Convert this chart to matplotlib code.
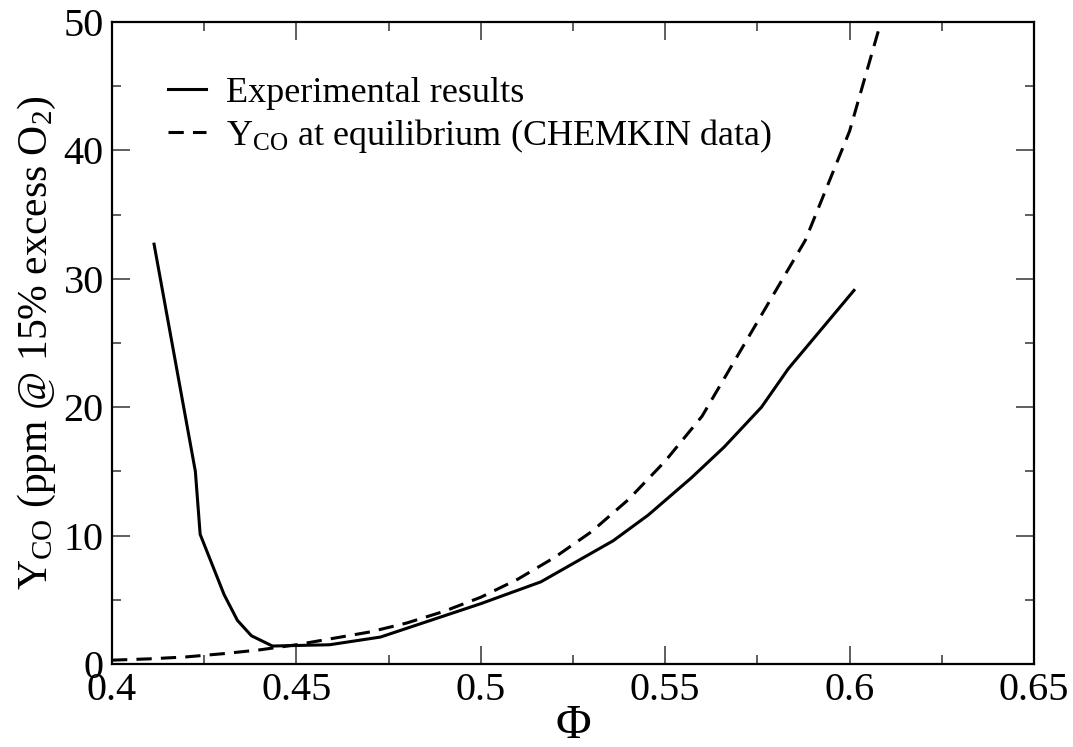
import matplotlib
matplotlib.use("Agg")
import matplotlib.pyplot as plt
from matplotlib.ticker import MultipleLocator, FuncFormatter

plt.rcParams['font.family'] = ['Liberation Serif', 'DejaVu Serif']
plt.rcParams['mathtext.fontset'] = 'custom'
plt.rcParams['mathtext.rm'] = 'Liberation Serif'
plt.rcParams['mathtext.it'] = 'Liberation Serif:italic'

# Measured CO emissions vs equivalence ratio
phi_exp = [0.4114, 0.4226, 0.4239, 0.4304, 0.4340, 0.4378, 0.4435,
           0.4590, 0.4728, 0.5000, 0.5163, 0.5359, 0.5454, 0.5571,
           0.5660, 0.5761, 0.5834, 0.6012]
co_exp = [32.7, 15.0, 10.1, 5.4, 3.4, 2.2, 1.4,
          1.5, 2.1, 4.7, 6.4, 9.6, 11.6, 14.5,
          16.9, 20.0, 23.0, 29.1]

# Equilibrium CO from CHEMKIN
phi_eq = [0.40, 0.41, 0.42, 0.43, 0.44, 0.45, 0.46, 0.47, 0.48, 0.49,
          0.50, 0.51, 0.52, 0.53, 0.54, 0.55, 0.56, 0.588, 0.60, 0.61]
co_eq = [0.3, 0.4, 0.55, 0.8, 1.1, 1.5, 2.0, 2.5, 3.2, 4.1,
         5.2, 6.6, 8.3, 10.3, 12.8, 15.8, 19.3, 33.0, 41.5, 51.5]

fig = plt.figure(figsize=(10.73, 7.47), dpi=100)
ax = fig.add_axes([0.1044, 0.1111, 0.8592, 0.8594])

ax.plot(phi_exp, co_exp, color='black', lw=2.2, label='Experimental results')
ax.plot(phi_eq, co_eq, color='black', lw=2.2, dashes=(5, 3),
        label=r'Y$_{\rm CO}$ at equilibrium (CHEMKIN data)')

ax.set_xlim(0.4, 0.65)
ax.set_ylim(0, 50)
ax.xaxis.set_major_locator(MultipleLocator(0.05))
ax.xaxis.set_minor_locator(MultipleLocator(0.025))
ax.yaxis.set_major_locator(MultipleLocator(10))
ax.yaxis.set_minor_locator(MultipleLocator(5))
ax.xaxis.set_major_formatter(FuncFormatter(lambda v, p: '%g' % round(v, 3)))

ax.tick_params(which='both', direction='in', top=True, right=True,
               labelsize=29, pad=6, color='#333333')
ax.tick_params(which='major', length=13, width=1.1)
ax.tick_params(which='minor', length=6.5, width=1.1)
for s in ax.spines.values():
    s.set_linewidth(1.6)

ax.set_xlabel('Φ', fontsize=35, labelpad=-4)
ax.set_ylabel(r'Y$_{\rm CO}$ (ppm @ 15% excess O$_2$)', fontsize=30, labelpad=4)

ax.legend(loc='upper left', frameon=False, fontsize=26, handlelength=1.05,
          handletextpad=0.55, labelspacing=0.2, borderpad=0, borderaxespad=0,
          bbox_to_anchor=(0.061, 0.915))

fig.savefig('out.png', dpi=100)
